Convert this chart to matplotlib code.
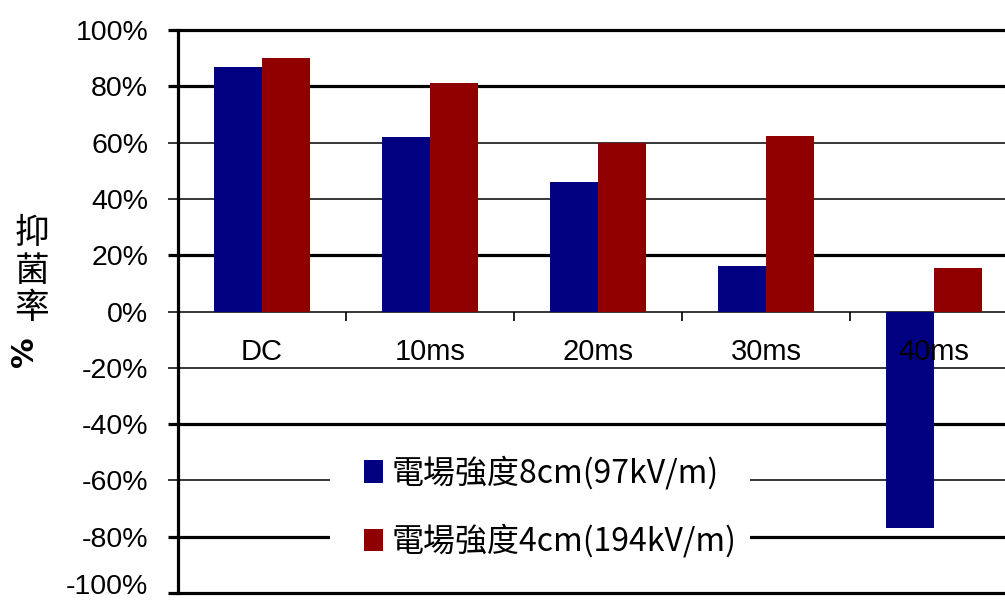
import numpy as np
import matplotlib
matplotlib.use("Agg")
import matplotlib.pyplot as plt
import matplotlib.transforms as mtransforms
from matplotlib.patches import Rectangle

# data
categories = ["DC", "10ms", "20ms", "30ms", "40ms"]
series_8cm = [0.87, 0.62, 0.46, 0.16, -0.77]
series_4cm = [0.90, 0.81, 0.60, 0.625, 0.155]
series_names = ["電場強度8cm(97kV/m)", "電場強度4cm(194kV/m)"]
y_ticks = [-1.0, -0.8, -0.6, -0.4, -0.2, 0.0, 0.2, 0.4, 0.6, 0.8, 1.0]
y_tick_labels = ["-100%", "-80%", "-60%", "-40%", "-20%", "0%",
                 "20%", "40%", "60%", "80%", "100%"]
thick_lines = [1.0, 0.8, 0.2, -0.4, -0.8, -1.0]

blue = "#000080"
red = "#900000"
cjk = ["Noto Sans CJK TC", "DejaVu Sans"]
num_font = "Liberation Sans"

fig = plt.figure(figsize=(10.05, 6.03), dpi=100)
fig.patch.set_facecolor("white")
ax = fig.add_axes([178 / 1005, 10 / 603, 840 / 1005, 563 / 603])

x = np.arange(len(categories))
w = 0.285
ax.bar(x - w / 2, series_8cm, w, color=blue, label=series_names[0], zorder=2)
ax.bar(x + w / 2, series_4cm, w, color=red, label=series_names[1], zorder=2)

ax.set_xlim(-0.5, len(categories) - 0.5)
ax.set_ylim(-1.0, 1.0)

# horizontal gridlines, continuing left of the spine as tick marks
trans = mtransforms.blended_transform_factory(ax.transAxes, ax.transData)
for v in y_ticks:
    lw = 2.3 if v in thick_lines else 1.1
    ax.plot([-0.012, 1.0], [v, v], color="black", lw=lw, transform=trans,
            clip_on=False, zorder=1, solid_capstyle="butt")

# category separators below the zero line
ax.vlines(x[:-1] + 0.5, -0.032, 0, color="black", lw=1.2, zorder=1)

for s in ["top", "right", "bottom"]:
    ax.spines[s].set_visible(False)
ax.spines["left"].set_linewidth(2.3)
ax.spines["left"].set_zorder(3)

ax.set_xticks([])
ax.set_yticks(y_ticks[1:])
ax.set_yticklabels(y_tick_labels[1:], fontsize=20.5, family=num_font)
ax.tick_params(axis="y", length=0, pad=21.5)
# bottom label sits at the image edge, nudged up so it stays whole
ax.text(-0.036, y_ticks[0] + 0.02, y_tick_labels[0], transform=trans,
        ha="right", va="center", fontsize=20.5, family=num_font)

for xi, lab in zip(x, categories):
    ax.text(xi, -0.145, lab, ha="center", va="center", fontsize=21,
            family=num_font, zorder=5)

# y label: stacked characters plus rotated percent sign
fig.text(32 / 1005, 1 - 271 / 603, "抑\n菌\n率", ha="center", va="center",
         fontsize=25, family=cjk, linespacing=1.1)
fig.text(25 / 1005, 1 - 352 / 603, "%", ha="center", va="center",
         fontsize=22, fontweight="bold", rotation=90, family="DejaVu Sans")

# white patch behind the legend hides the gridlines there
ax.add_patch(Rectangle((0.181, 0.035), 0.5, 0.235, transform=ax.transAxes,
                       facecolor="white", edgecolor="none", zorder=3))
leg = ax.legend(loc="center", bbox_to_anchor=(0.443, 0.153), frameon=False,
                handlelength=0.6, handleheight=0.7, handletextpad=0.25,
                labelspacing=1.08, borderpad=0.2,
                prop={"family": cjk, "size": 23})
leg.set_zorder(4)

fig.savefig("out.png", dpi=100, facecolor="white")
